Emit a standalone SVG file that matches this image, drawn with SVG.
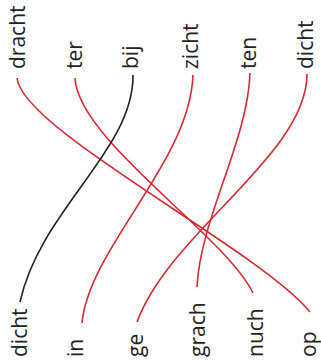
<svg xmlns="http://www.w3.org/2000/svg" width="321" height="361" viewBox="0 0 321 361">
<style>
.w{font-family:"Open Sans","Liberation Sans",sans-serif;font-size:21px;fill:#222;}
.r{fill:none;stroke:#d42a34;stroke-width:1.6;}
.k{fill:none;stroke:#222;stroke-width:1.6;}
</style>
<rect width="321" height="361" fill="#fff"/>
<g id="connectors">
<path class="r" d="M17,78 C22,130 260,250 310,312"/>
<path class="r" d="M75,78 C78,140 225,235 253,293"/>
<path class="k" d="M133,75 C134,150 40,210 20,302"/>
<path class="r" d="M193,75 C190,162 89,248 82,323"/>
<path class="r" d="M250,73 C248,140 200,220 197,287"/>
<path class="r" d="M307,74 C307,155 170,232 137,322"/>
</g>
<g id="top-dracht"><text class="w" transform="translate(25,69) rotate(-90)">dracht</text></g>
<g id="top-ter"><text class="w" transform="translate(82,69) rotate(-90)">ter</text></g>
<g id="top-bij"><text class="w" transform="translate(138,69) rotate(-90)">bij</text></g>
<g id="top-zicht"><text class="w" transform="translate(198,69) rotate(-90)">zicht</text></g>
<g id="top-ten"><text class="w" transform="translate(256,69) rotate(-90)">ten</text></g>
<g id="top-dicht"><text class="w" transform="translate(313,69) rotate(-90)">dicht</text></g>
<g id="bot-dicht"><text class="w" transform="translate(27,357) rotate(-90)">dicht</text></g>
<g id="bot-in"><text class="w" transform="translate(83,357) rotate(-90)">in</text></g>
<g id="bot-ge"><text class="w" transform="translate(143,357) rotate(-90)">ge</text></g>
<g id="bot-grach"><text class="w" transform="translate(205,357) rotate(-90)">grach</text></g>
<g id="bot-nuch"><text class="w" transform="translate(263,357) rotate(-90)">nuch</text></g>
<g id="bot-op"><text class="w" transform="translate(316,357) rotate(-90)">op</text></g>
</svg>
